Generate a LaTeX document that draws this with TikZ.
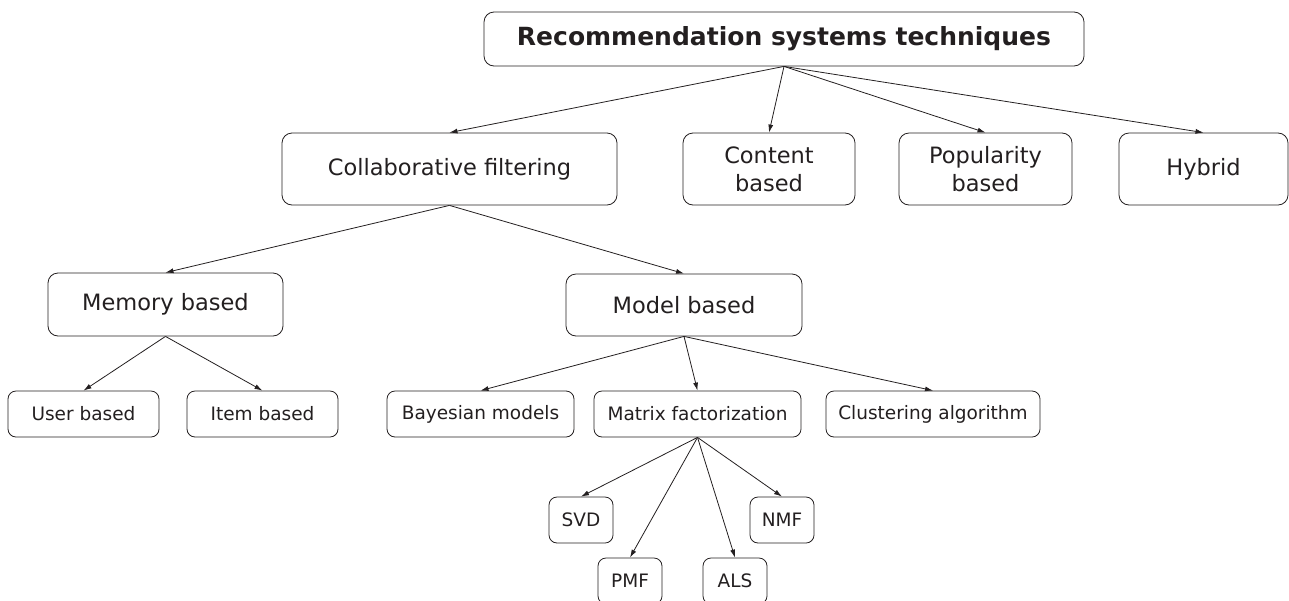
\documentclass[tikz,border=0pt]{standalone}
\usepackage{fontspec}
\setmainfont{DejaVu Sans}
\usetikzlibrary{arrows.meta}
\definecolor{ink}{HTML}{231F20}
\tikzset{
  box/.style={draw=ink, text=ink, line width=0.8pt, rounded corners=10pt, inner sep=0pt, align=center,
     font=\fontsize{22.5}{28}\selectfont},
  smallbox/.style={box, rounded corners=8pt, minimum height=46pt, font=\fontsize{18.5}{22}\selectfont},
  arr/.style={draw=ink, line width=0.8pt, -{Latex[length=8pt,width=5pt]}}
}
\begin{document}
\begin{tikzpicture}[x=1pt,y=-1pt]
\useasboundingbox (0,0) rectangle (1289,600);
\node[box, minimum width=600pt, minimum height=54pt, font=\fontsize{25}{30}\selectfont\bfseries] (root) at (784,39) {Recommendation systems techniques};
\node[box, minimum width=335pt, minimum height=72pt] (cf) at (449.5,169) {Collaborative filtering};
\node[box, minimum width=172pt, minimum height=72pt] (cb) at (769,169) {Content\\based};
\node[box, minimum width=173pt, minimum height=72pt] (pb) at (985.5,169) {Popularity\\based};
\node[box, minimum width=169pt, minimum height=72pt] (hy) at (1203.5,169) {Hybrid};
\node[box, minimum width=235pt, minimum height=63pt] (mem) at (165.5,304.5) {Memory based};
\node[box, minimum width=236pt, minimum height=62pt] (mod) at (684,305) {Model based};
\node[smallbox, minimum width=151pt] (ub) at (83.5,414) {User based};
\node[smallbox, minimum width=151pt] (ib) at (262.5,414) {Item based};
\node[smallbox, minimum width=187pt] (bm) at (480.5,414) {Bayesian models};
\node[smallbox, minimum width=207pt] (mf) at (697.5,414) {Matrix factorization};
\node[smallbox, minimum width=214pt] (ca) at (933,414) {Clustering algorithm};
\node[smallbox, minimum width=64pt] (svd) at (581,520) {SVD};
\node[smallbox, minimum width=64pt] (nmf) at (782,520) {NMF};
\node[smallbox, minimum width=64pt] (pmf) at (630,581) {PMF};
\node[smallbox, minimum width=64pt] (als) at (735,581) {ALS};
\foreach \c in {cf,cb,pb,hy} \draw[arr] (root.south) -- (\c.north);
\foreach \c in {mem,mod} \draw[arr] (cf.south) -- (\c.north);
\foreach \c in {ub,ib} \draw[arr] (mem.south) -- (\c.north);
\foreach \c in {bm,mf,ca} \draw[arr] (mod.south) -- (\c.north);
\foreach \c in {svd,nmf,pmf,als} \draw[arr] (mf.south) -- (\c.north);
\end{tikzpicture}
\end{document}
